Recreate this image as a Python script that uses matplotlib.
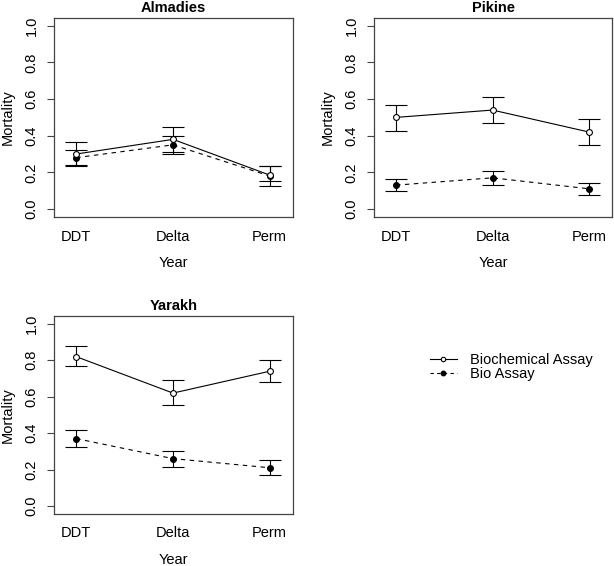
import matplotlib
matplotlib.use("Agg")
import matplotlib.pyplot as plt
from matplotlib.lines import Line2D

plt.rcParams['font.family'] = ['Liberation Sans', 'DejaVu Sans']

# -----------------------------------------
# data
# -----------------------------------------
insecticides = ["DDT", "Delta", "Perm"]
x = [1, 2, 3]

almadies_bio_chem = [0.30, 0.38, 0.185]
almadies_bio_chem_lo = [0.235, 0.31, 0.15]
almadies_bio_chem_hi = [0.365, 0.45, 0.232]
almadies_bio = [0.28, 0.35, 0.18]
almadies_bio_lo = [0.24, 0.30, 0.127]
almadies_bio_hi = [0.323, 0.40, 0.232]

pikine_bio_chem = [0.50, 0.54, 0.42]
pikine_bio_chem_lo = [0.428, 0.468, 0.35]
pikine_bio_chem_hi = [0.57, 0.61, 0.49]
pikine_bio = [0.13, 0.17, 0.11]
pikine_bio_lo = [0.096, 0.132, 0.078]
pikine_bio_hi = [0.163, 0.209, 0.142]

yarakh_bio_chem = [0.82, 0.62, 0.74]
yarakh_bio_chem_lo = [0.767, 0.552, 0.679]
yarakh_bio_chem_hi = [0.876, 0.692, 0.803]
yarakh_bio = [0.37, 0.26, 0.21]
yarakh_bio_lo = [0.322, 0.215, 0.169]
yarakh_bio_hi = [0.419, 0.304, 0.251]

panels = [
    ("Almadies", [0.088, 0.6166, 0.389, 0.352],
     almadies_bio_chem, almadies_bio_chem_lo, almadies_bio_chem_hi,
     almadies_bio, almadies_bio_lo, almadies_bio_hi),
    ("Pikine", [0.609, 0.6166, 0.388, 0.352],
     pikine_bio_chem, pikine_bio_chem_lo, pikine_bio_chem_hi,
     pikine_bio, pikine_bio_lo, pikine_bio_hi),
    ("Yarakh", [0.088, 0.0919, 0.389, 0.350],
     yarakh_bio_chem, yarakh_bio_chem_lo, yarakh_bio_chem_hi,
     yarakh_bio, yarakh_bio_lo, yarakh_bio_hi),
]

FS = 10.5

fig = plt.figure(figsize=(6.14, 5.66), dpi=100)


def draw_series(ax, vals, lo, hi, face, ls):
    err = [[v - l for v, l in zip(vals, lo)], [h - v for v, h in zip(vals, hi)]]
    ax.errorbar(x, vals, yerr=err, fmt='none', ecolor='black', elinewidth=0.8,
                capsize=8, capthick=0.8, zorder=2)
    ax.plot(x, vals, color='black', lw=0.8, linestyle=ls, zorder=3)
    ax.plot(x, vals, linestyle='none', marker='o', markersize=4.2,
            markerfacecolor=face, markeredgecolor='black', markeredgewidth=0.8,
            zorder=4)


for title, pos, bc, bc_lo, bc_hi, b, b_lo, b_hi in panels:
    ax = fig.add_axes(pos)
    draw_series(ax, b, b_lo, b_hi, 'black', (0, (4, 4)))
    draw_series(ax, bc, bc_lo, bc_hi, 'white', '-')
    ax.set_xlim(0.77, 3.24)
    ax.set_ylim(-0.044, 1.044)
    ax.set_yticks([0.0, 0.2, 0.4, 0.6, 0.8, 1.0])
    ax.set_yticklabels(["0.0", "0.2", "0.4", "0.6", "0.8", "1.0"],
                       rotation=90, va='center')
    ax.set_xticks(x)
    ax.set_xticklabels(insecticides)
    ax.tick_params(axis='x', length=0, pad=9, labelsize=FS)
    ax.tick_params(axis='y', length=5, width=0.8, pad=6, labelsize=FS,
                   color='#444444')
    for s in ax.spines.values():
        s.set_color('#444444')
        s.set_linewidth(0.9)
    ax.set_title(title, fontsize=FS, fontweight='bold', pad=4)
    ax.set_xlabel("Year", fontsize=FS, labelpad=9)
    ax.set_ylabel("Mortality", fontsize=FS, labelpad=7)

# legend in the empty fourth slot
handles = [
    Line2D([], [], color='black', lw=0.8, marker='o', markersize=3.2,
           markerfacecolor='white', markeredgecolor='black', markeredgewidth=0.8),
    Line2D([], [], color='black', lw=0.8, linestyle=(0, (3, 3)), marker='o',
           markersize=3.2, markerfacecolor='black', markeredgecolor='black'),
]
fig.legend(handles, ["Biochemical Assay", "Bio Assay"], frameon=False,
           fontsize=FS, loc='center left', bbox_to_anchor=(0.700, 0.3516),
           handlelength=1.85, handletextpad=0.9, labelspacing=0.0,
           borderpad=0, borderaxespad=0)

plt.savefig('out.png', dpi=100)
